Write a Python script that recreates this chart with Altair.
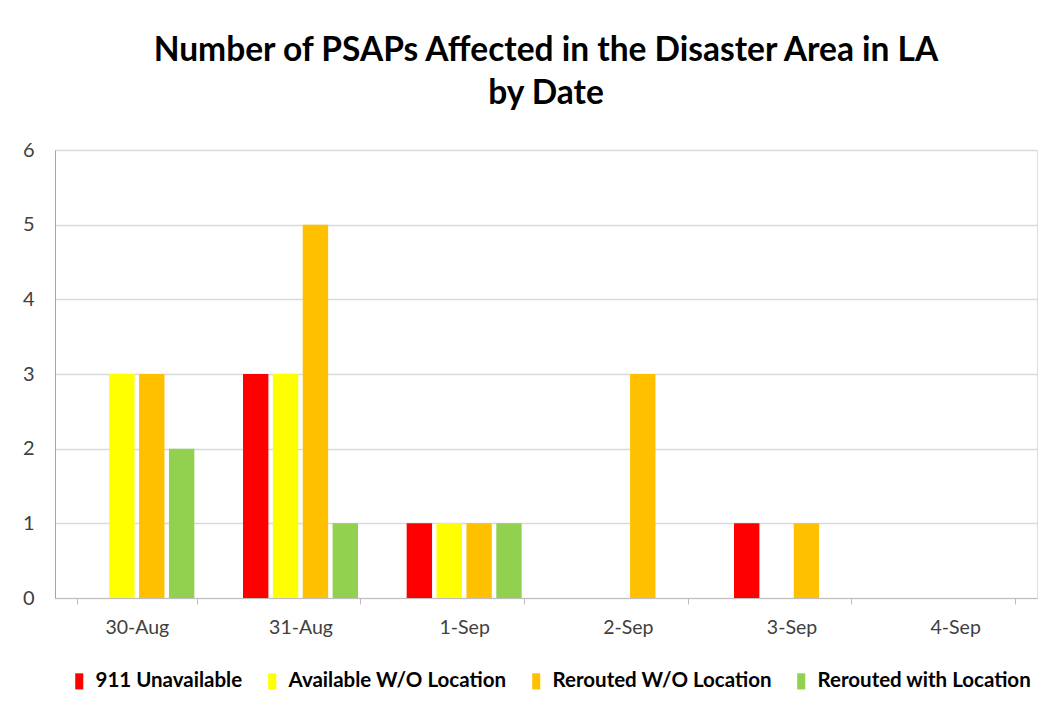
import altair as alt
import pandas as pd

dates = ["30-Aug", "31-Aug", "1-Sep", "2-Sep", "3-Sep", "4-Sep"]
series = ["911 Unavailable", "Available W/O Location", "Rerouted W/O Location", "Rerouted with Location"]
colors = ["#FF0000", "#FFFF00", "#FFC000", "#92D050"]
unavailable = [0, 3, 1, 0, 1, 0]
available_wo = [3, 3, 1, 0, 0, 0]
rerouted_wo = [3, 5, 1, 3, 1, 0]
rerouted_with = [2, 1, 1, 0, 0, 0]

rows = []
for s, vals in zip(series, [unavailable, available_wo, rerouted_wo, rerouted_with]):
    for d, v in zip(dates, vals):
        rows.append({"date": d, "series": s, "value": v})
df = pd.DataFrame(rows)

FONT = "Lato"

chart = alt.Chart(df).mark_bar().encode(
    x=alt.X("date:N", sort=dates, title=None,
            scale=alt.Scale(paddingInner=0.27, paddingOuter=0.135),
            axis=alt.Axis(labelAngle=0, labelFontSize=19.5, labelColor="#404040", labelFont=FONT,
                          labelPadding=14, tickBand="extent", tickColor="#bfbfbf", tickSize=6,
                          domainColor="#bfbfbf", grid=False)),
    xOffset=alt.XOffset("series:N", sort=series,
                        scale=alt.Scale(paddingInner=0.15, paddingOuter=0.075)),
    y=alt.Y("value:Q", title=None,
            scale=alt.Scale(domain=[0, 6], nice=False),
            axis=alt.Axis(values=[0, 1, 2, 3, 4, 5, 6], labelFontSize=20, labelColor="#404040",
                          labelFont=FONT, labelPadding=21, ticks=False,
                          domainColor="#a6a6a6", gridColor="#d9d9d9", gridWidth=1.5)),
    color=alt.Color("series:N", sort=series,
                    scale=alt.Scale(domain=series, range=colors),
                    legend=alt.Legend(title=None, orient="none", direction="horizontal",
                                      legendX=14, legendY=521, labelLimit=0,
                                      symbolType="M-0.5,-1H0.5V1H-0.5Z", symbolSize=260,
                                      symbolStrokeWidth=0, labelFontSize=20.5, labelFont=FONT,
                                      labelFontWeight="bold", labelColor="#000000",
                                      labelOffset=6, columnPadding=19)),
).properties(
    width=982,
    height=448,
    title=alt.TitleParams(
        text=["Number of PSAPs Affected in the Disaster Area in LA", "by Date"],
        fontSize=33.5, font=FONT, fontWeight="bold", color="#000000",
        anchor="middle", lineHeight=43, offset=29),
    autosize=alt.AutoSizeParams(type="none"),
    padding={"left": 47, "top": 142, "right": 8, "bottom": 100},
).configure_view(
    stroke="#a6a6a6", strokeWidth=1.5
).configure(background="white")

chart.save("out.html", embed_options={"renderer": "svg", "actions": False})
